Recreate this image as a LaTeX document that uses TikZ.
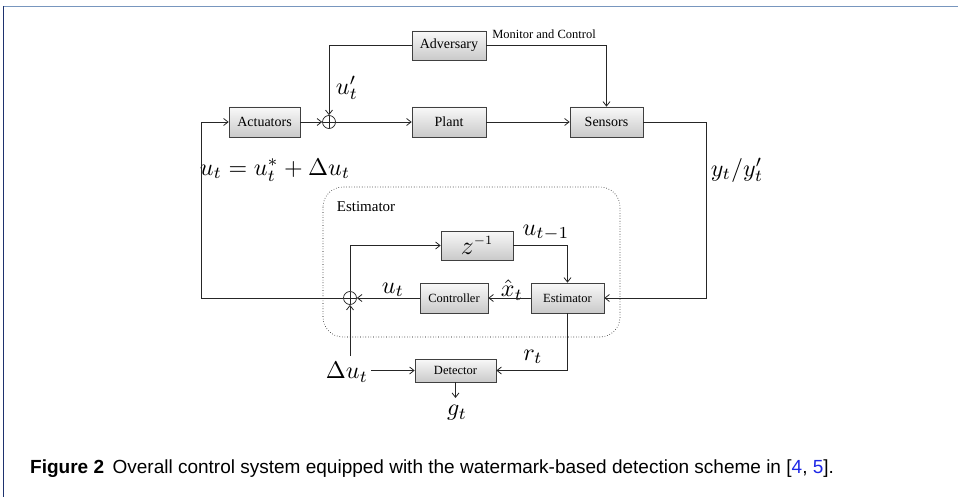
\documentclass[tikz,border=0pt]{standalone}
\usepackage{fontspec}
\setmainfont{Liberation Serif}
\newfontfamily\capfont{Liberation Sans}
\usetikzlibrary{arrows.meta}
\definecolor{frametop}{RGB}{120,150,190}
\definecolor{frameleft}{RGB}{30,50,110}
\definecolor{linkblue}{RGB}{30,40,230}
\begin{document}
\begin{tikzpicture}[x=1pt,y=-1pt,
  ln/.style={line width=0.8pt, draw=black!85},
  arr/.style={ln, -{Straight Barb[length=4.5pt,width=7pt]}},
  blk/.style={draw=black!75, line width=0.6pt, top color=gray!5, bottom color=gray!42, inner sep=0pt, font=\fontsize{14}{16}\selectfont},
  sblk/.style={blk, font=\fontsize{12.5}{14}\selectfont},
  sumn/.style={circle, draw=black!85, line width=0.7pt, minimum size=13pt, inner sep=0pt,
    path picture={\draw[line width=0.7pt] (path picture bounding box.north) -- (path picture bounding box.south) (path picture bounding box.west) -- (path picture bounding box.east);}},
  mlab/.style={scale=2.4, inner sep=0pt},
  tlab/.style={font=\fontsize{12.5}{14}\selectfont, inner sep=0pt}
]
\useasboundingbox (0,0) rectangle (958,497);
\draw[frametop, line width=1.2pt] (3,6.5) -- (958,6.5);
\draw[frameleft, line width=1pt] (3.5,6) -- (3.5,497);

% top row
\node[blk, minimum width=74pt, minimum height=29pt] (adv) at (449,45.5) {Adversary};
\node[blk, minimum width=71pt, minimum height=30pt] (act) at (264.5,122) {Actuators};
\node[sumn] (s1) at (329,122) {};
\node[blk, minimum width=74pt, minimum height=30pt] (plant) at (449,122) {Plant};
\node[blk, minimum width=73pt, minimum height=30pt] (sens) at (606.5,122) {Sensors};
\node[tlab] (mc) at (544,34) {Monitor and Control};

% estimator region
\draw[dotted, line width=0.6pt, rounded corners=20pt] (323,187) rectangle (620,337);
\node[font=\fontsize{15}{17}\selectfont, inner sep=0pt] (estlab) at (366,207) {Estimator};
\node[blk, minimum width=72pt, minimum height=29pt] (z) at (477,245.5) {\scalebox{1.8}{$z^{\scriptscriptstyle -1}$}};
\node[sblk, minimum width=68pt, minimum height=30pt] (ctrl) at (454,298) {Controller};
\node[sblk, minimum width=73pt, minimum height=30pt] (est) at (567.5,298) {Estimator};
\node[sumn] (s2) at (350,298) {};
\node[sblk, minimum width=81pt, minimum height=23pt] (det) at (455.5,370.5) {Detector};

% math labels
\node[mlab] (lup) at (347,88) {$u'_t$};
\node[mlab] (lu) at (275,170) {$u_t = u_t^{*} + \Delta u_t$};
\node[mlab] (ly) at (737,170) {$y_t/y'_t$};
\node[mlab] (lum) at (546,233) {$u_{t-1}$};
\node[mlab] (lut) at (393,290) {$u_t$};
\node[mlab] (lx) at (512,290) {$\hat{x}_t$};
\node[mlab] (lr) at (533,357) {$r_t$};
\node[mlab] (ldu) at (347,372) {$\Delta u_t$};
\node[mlab] (lg) at (457,413) {$g_t$};

% connectors
\draw[arr] (adv.west) -| (s1.north);
\draw[arr] (adv.east) -| (sens.north);
\draw[arr] (act.east) -- (s1.west);
\draw[arr] (s1.east) -- (plant.west);
\draw[arr] (plant.east) -- (sens.west);
\coordinate (r1) at (706,122);
\coordinate (r2) at (706,298);
\draw[arr] (sens.east) -- (r1) -- (r2) -- (est.east);
\draw[arr] (est.west) -- (ctrl.east);
\draw[arr] (ctrl.west) -- (s2.east);
\coordinate (l1) at (201,298);
\coordinate (l2) at (201,122);
\draw[arr] (s2.west) -- (l1) -- (l2) -- (act.west);
\draw[arr] (s2.north) |- (z.west);
\draw[arr] (z.east) -| (est.north);
\draw[arr] (est.south) |- (det.east);
\coordinate (du1) at (350,356);
\draw[arr] (du1) -- (s2.south);
\coordinate (du2) at (371,370.5);
\draw[arr] (du2) -- (det.west);
\coordinate (gd) at (455.5,398);
\draw[arr] (det.south) -- (gd);

% caption
\node[anchor=west, font=\capfont\fontsize{19}{21}\selectfont, inner sep=0pt] (cap) at (30,469)
  {\textbf{Figure 2}\hspace{0.45em}Overall control system equipped with the watermark-based detection scheme in [{\color{linkblue}4}, {\color{linkblue}5}].};
\end{tikzpicture}
\end{document}
